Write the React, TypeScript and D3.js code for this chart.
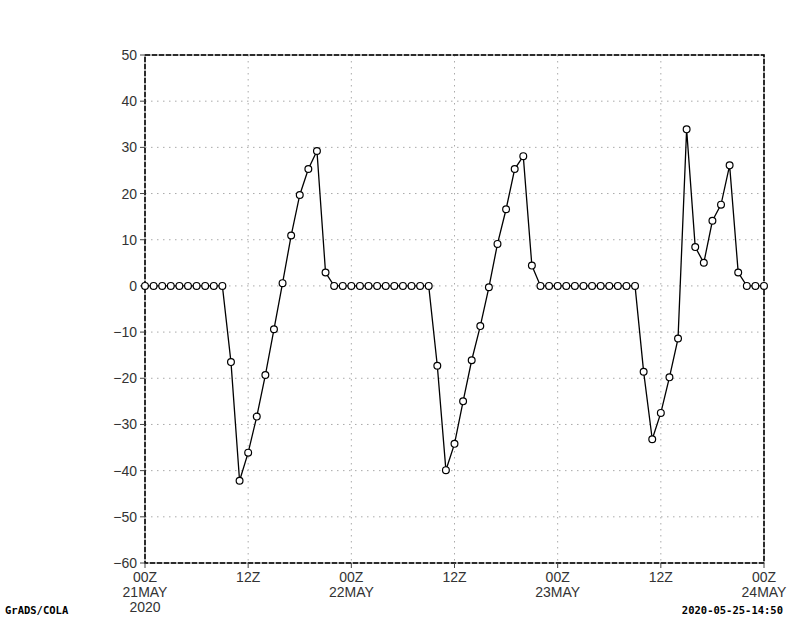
import React from "react";
import * as d3 from "d3";

// hourly values from 00Z 21MAY2020 to 00Z 24MAY2020
const hours: number[] = d3.range(0, 73);
const values: number[] = [
  0, 0, 0, 0, 0, 0, 0, 0, 0, 0,
  -16.5, -42.2, -36.1, -28.3, -19.3, -9.4, 0.6, 10.9, 19.7, 25.3, 29.2, 2.9,
  0, 0, 0, 0, 0, 0, 0, 0, 0, 0, 0, 0,
  -17.3, -39.9, -34.2, -25.0, -16.1, -8.7, -0.3, 9.1, 16.6, 25.3, 28.1, 4.4,
  0, 0, 0, 0, 0, 0, 0, 0, 0, 0, 0, 0,
  -18.6, -33.2, -27.5, -19.8, -11.4, 33.9, 8.4, 5.0, 14.1, 17.6, 26.1, 2.9,
  0, 0, 0,
];
const yTicks: number[] = [50, 40, 30, 20, 10, 0, -10, -20, -30, -40, -50, -60];
const xTickHours: number[] = [0, 12, 24, 36, 48, 60, 72];
const xTickLabels: string[][] = [
  ["00Z", "21MAY", "2020"],
  ["12Z"],
  ["00Z", "22MAY"],
  ["12Z"],
  ["00Z", "23MAY"],
  ["12Z"],
  ["00Z", "24MAY"],
];
const footerLeft = "GrADS/COLA";
const footerRight = "2020-05-25-14:50";

export default function App() {
  const W = 800, H = 618;
  const left = 145, right = 764, top = 55, bottom = 563;
  const x = d3.scaleLinear().domain([0, 72]).range([left, right]);
  const y = d3.scaleLinear().domain([-60, 50]).range([bottom, top]);
  const line = d3.line<number>().x((_, i) => x(hours[i])).y((d) => y(d));
  const font = "'Liberation Sans', Arial, sans-serif";
  const fmt = (v: number) => (v < 0 ? "\u2212" + Math.abs(v) : String(v));
  return (
    <svg width={W} height={H} style={{ position: "absolute", left: 0, top: 0, background: "#fff" }}>
      <rect x={0} y={0} width={W} height={H} fill="#fff" />
      {/* grid */}
      {yTicks.filter((t) => t !== 50 && t !== -60).map((t) => (
        <line key={"gy" + t} x1={left} x2={right} y1={y(t)} y2={y(t)} stroke="#aaa" strokeWidth={1} strokeDasharray="1.5,4.5" />
      ))}
      {xTickHours.filter((h) => h !== 0 && h !== 72).map((h) => (
        <line key={"gx" + h} x1={x(h)} x2={x(h)} y1={top} y2={bottom} stroke="#aaa" strokeWidth={1} strokeDasharray="1.5,4.5" />
      ))}
      {/* frame */}
      <rect x={left} y={top} width={right - left} height={bottom - top} fill="none" stroke="#999" strokeWidth={1.5} />
      <rect x={left} y={top} width={right - left} height={bottom - top} fill="none" stroke="#000" strokeWidth={1.5} strokeDasharray="5,2" />
      {/* y ticks */}
      {yTicks.map((t) => (
        <g key={"yt" + t}>
          <line x1={left - 5} x2={left} y1={y(t)} y2={y(t)} stroke="#444" strokeWidth={1} />
          <text x={left - 8} y={y(t)} dy="0.36em" textAnchor="end" fontFamily={font} fontSize={14} fill="#333">{fmt(t)}</text>
        </g>
      ))}
      {/* x ticks */}
      {xTickHours.map((h, i) => (
        <g key={"xt" + h}>
          <line x1={x(h)} x2={x(h)} y1={bottom} y2={bottom + 5} stroke="#444" strokeWidth={1} />
          {xTickLabels[i].map((s, j) => (
            <text key={j} x={x(h)} y={bottom + 19 + j * 15} textAnchor="middle" fontFamily={font} fontSize={14} fill="#333">{s}</text>
          ))}
        </g>
      ))}
      {/* series */}
      <path d={line(values) || ""} fill="none" stroke="#000" strokeWidth={1.3} />
      {values.map((v, i) => (
        <circle key={"p" + i} cx={x(hours[i])} cy={y(v)} r={3.4} fill="#fff" stroke="#000" strokeWidth={1.2} />
      ))}
      {/* footer */}
      <text x={5} y={614} fontFamily="'DejaVu Sans Mono', monospace" fontSize={10.5} fontWeight="bold" fill="#000">{footerLeft}</text>
      <text x={783} y={614} textAnchor="end" fontFamily="'DejaVu Sans Mono', monospace" fontSize={10.5} fontWeight="bold" fill="#000">{footerRight}</text>
    </svg>
  );
}
